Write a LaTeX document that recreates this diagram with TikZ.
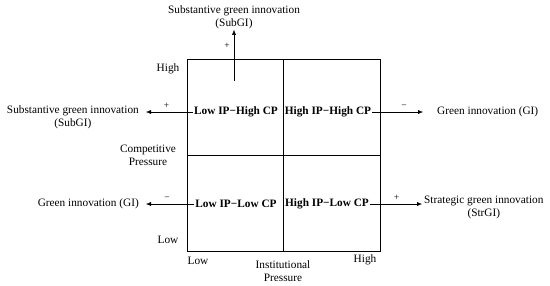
\documentclass[tikz,border=0pt]{standalone}
\usepackage{fontspec}
\setmainfont{Liberation Serif}
\usetikzlibrary{arrows.meta}

\begin{document}
\begin{tikzpicture}[>={Latex[length=5pt,width=4pt]},x=1pt,y=-1pt,every node/.style={font=\fontsize{11.3}{13}\selectfont,align=center,inner sep=1pt},quad/.style={font=\fontsize{11.3}{13}\selectfont\bfseries},sign/.style={font=\fontsize{9.5}{10}\selectfont,above=2pt}]
\useasboundingbox (0,0) rectangle (550,285);
\draw[line width=1pt] (187,59) rectangle (380,251);
\draw[line width=1pt] (283,59)--(283,251); \draw[line width=1pt] (187,155)--(380,155);
\node[quad] (lh) at (236,112) {Low IP−High CP};
\node[quad] (hh) at (328,112) {High IP−High CP};
\node[quad] (ll) at (236,204) {Low IP−Low CP};
\node[quad] (hl) at (327,204) {High IP−Low CP};
\node (subt) at (234,17) {Substantive green innovation\\(SubGI)};
\node[anchor=east] (subl) at (140,117) {Substantive green innovation\\(SubGI)};
\node[anchor=west] (gir) at (436,112) {Green innovation (GI)};
\node[anchor=east] (gil) at (140,204) {Green innovation (GI)};
\node[anchor=west] (str) at (423,207) {Strategic green innovation\\(StrGI)};
\coordinate (up) at (234,81);
\draw[->] (up) -- node[sign,left=3pt,pos=0.65]{+} (subt.south);
\draw[->,shorten >=6pt] (lh.west) -- node[sign]{+} (lh.west -| subl.east);
\draw[->,shorten >=13pt] (hh.east) -- node[sign]{−} (hh.east -| gir.west);
\draw[->,shorten >=6pt] (ll.west) -- node[sign]{−} (ll.west -| gil.east);
\draw[->,shorten >=1pt] (hl.east) -- node[sign]{+} (hl.east -| str.west);
\node (cph) at (168,69) {High};
\node (cpl) at (168,240) {Low};
\node (cp) at (148,155) {Competitive\\Pressure};
\node (ipl) at (198,261) {Low};
\node (ip) at (283,271) {Institutional\\Pressure};
\node (iph) at (365,260) {High};
\end{tikzpicture}
\end{document}
